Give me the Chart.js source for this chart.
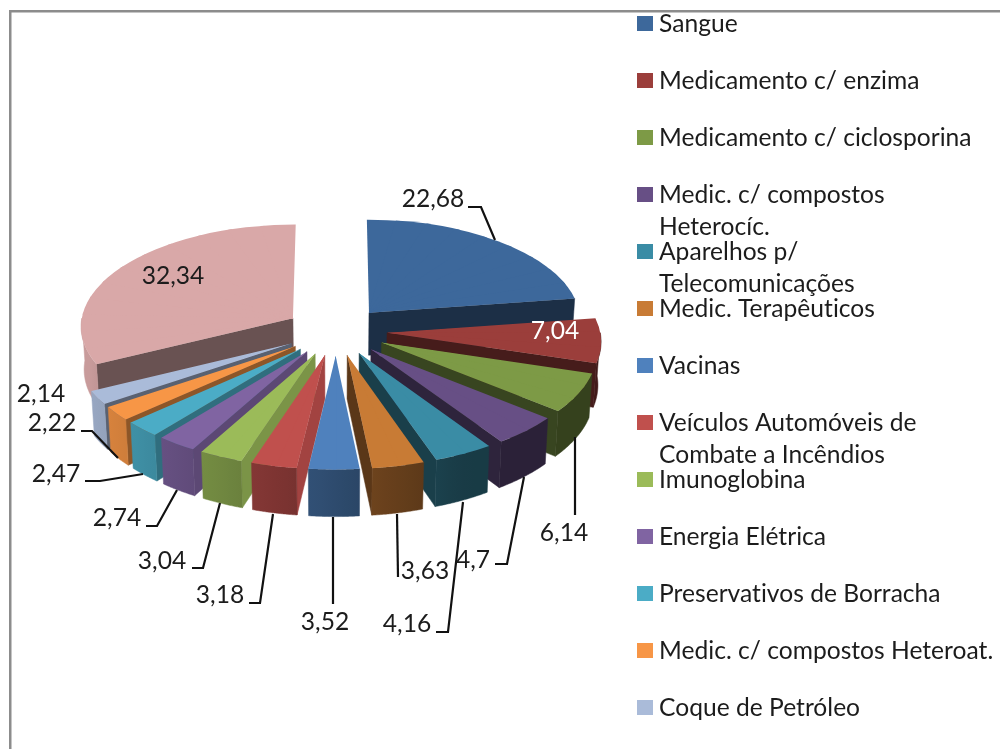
<!DOCTYPE html>
<html>
<head>
<meta charset="utf-8">
<style>
  html, body { margin: 0; padding: 0; background: #fff; }
  canvas { display: block; }
</style>
<script src="https://cdn.jsdelivr.net/npm/chart.js@4"></script>
</head>
<body>
<canvas id="pieChart" width="1000" height="749"></canvas>
<script>
// valores
const categories = ['Sangue', 'Medicamento c/ enzima', 'Medicamento c/ ciclosporina', 'Medic. c/ compostos Heterocíc.',
  'Aparelhos p/ Telecomunicações', 'Medic. Terapêuticos', 'Vacinas', 'Veículos Automóveis de Combate a Incêndios',
  'Imunoglobina', 'Energia Elétrica', 'Preservativos de Borracha', 'Medic. c/ compostos Heteroat.', 'Coque de Petróleo', 'Outros'];
const values = [22.68, 7.04, 6.14, 4.7, 4.16, 3.63, 3.52, 3.18, 3.04, 2.74, 2.47, 2.22, 2.14, 32.34];
const colours = ['#3D689B', '#9B3E3B', '#7D9A46', '#674F85', '#3A8CA5', '#C87B35', '#4F81BD', '#C0504D',
  '#9BBB59', '#8064A2', '#4BACC6', '#F79646', '#AABBD9', '#D9A8A8'];
// linhas da legenda (a última fatia não aparece na legenda)
const legendLines = [['Sangue'], ['Medicamento c/ enzima'], ['Medicamento c/ ciclosporina'], ['Medic. c/ compostos', 'Heterocíc.'],
  ['Aparelhos p/', 'Telecomunicações'], ['Medic. Terapêuticos'], ['Vacinas'], ['Veículos Automóveis de', 'Combate a Incêndios'],
  ['Imunoglobina'], ['Energia Elétrica'], ['Preservativos de Borracha'], ['Medic. c/ compostos Heteroat.'], ['Coque de Petróleo']];

// posição dos rótulos e linhas de chamada
const labelPos = [[433, 199], [555, 331], [564, 533], [473, 560], [407, 624], [425, 571], [325, 622],
  [220, 595], [162, 561], [117, 518], [56, 474], [52, 423], [41, 394], [173, 276]];
const leaders = [
  [[495, 240], [481, 207], [468, 207]], null,
  [[575, 437], [575, 515]],
  [[524, 477], [507, 564], [495, 564]],
  [[463, 502], [448, 632], [436, 632]],
  [[397, 514], [398, 577]],
  [[333, 517], [333, 604]],
  [[273, 514], [260, 603], [249, 603]],
  [[220, 503], [203, 568], [192, 568]],
  [[177, 490], [157, 526], [146, 526]],
  [[143, 474], [100, 481], [85, 481]],
  [[118, 458], [92, 431], [81, 431]],
  null, null
];

const FONT = 'Lato, "Open Sans", sans-serif';
const view = { cx: 336, cy: 331, rx: 213, ry: 102, persp: 0.07, depth: 43, explode: 0.24, narrow: 0.012 };

function shade(hex, f) {
  const n = parseInt(hex.slice(1), 16);
  const c = [n >> 16, (n >> 8) & 255, n & 255].map(v => Math.round(Math.min(255, v * f)));
  return 'rgb(' + c.join(',') + ')';
}

// projeta um ponto da fatia (raio t, ângulo a) para o ecrã, z = profundidade
function project(arc, t, a, z) {
  const d = z || 0;
  const mid = (arc.startAngle + arc.endAngle) / 2;
  const u = view.explode * Math.cos(mid) + t * Math.cos(a);
  const v = view.explode * Math.sin(mid) + t * Math.sin(a);
  const s = 1 / (1 - view.persp * v);
  return [view.cx + view.rx * u * s * (1 - view.narrow * d / view.depth), view.cy + view.ry * v * s + d * s];
}

function poly(ctx, pts, fill) {
  ctx.beginPath();
  pts.forEach((p, i) => i ? ctx.lineTo(p[0], p[1]) : ctx.moveTo(p[0], p[1]));
  ctx.closePath();
  ctx.fillStyle = fill;
  ctx.fill();
  ctx.strokeStyle = fill;
  ctx.lineWidth = 0.5;
  ctx.stroke();
}

function radialFace(ctx, arc, a, nx, ny, colour) {
  if (ny <= 0) return; // virada para trás
  const k = Math.max(0, nx);
  const f = 0.45 + 0.4 * k * k * k;
  poly(ctx, [project(arc, 0, a), project(arc, 1, a), project(arc, 1, a, view.depth), project(arc, 0, a, view.depth)], shade(colour, f));
}

function outerWall(ctx, arc, colour) {
  const lo = Math.max(arc.startAngle, 0), hi = Math.min(arc.endAngle, Math.PI);
  if (lo >= hi) return;
  const top = [], bottom = [];
  const steps = 40;
  for (let i = 0; i <= steps; i++) {
    const a = lo + (hi - lo) * i / steps;
    top.push(project(arc, 1, a));
    bottom.unshift(project(arc, 1, a, view.depth));
  }
  const wallShade = a => Math.max(0.42, Math.min(0.92, 0.58 - 0.35 * Math.cos(a)));
  const x0 = top[0][0], x1 = top[steps][0];
  const g = ctx.createLinearGradient(x0, 0, x1 === x0 ? x0 + 1 : x1, 0);
  for (let i = 0; i <= 4; i++) {
    g.addColorStop(i / 4, shade(colour, wallShade(lo + (hi - lo) * i / 4)));
  }
  poly(ctx, top.concat(bottom), g);
}

// a face superior é o próprio ArcElement, desenhado em setores finos,
// cada um com a sua transformação afim, para seguir a perspetiva
function topFace(ctx, arc) {
  const span = arc.endAngle - arc.startAngle;
  const n = Math.ceil(span / (10 * Math.PI / 180));
  const overlap = 0.01;
  const R = arc.outerRadius;
  const A = project(arc, 0, 0);
  for (let i = 0; i < n; i++) {
    const a0 = arc.startAngle + span * i / n, a1 = arc.startAngle + span * (i + 1) / n;
    const B = project(arc, 1, a0), C = project(arc, 1, a1);
    const c1 = Math.cos(a0), s1 = Math.sin(a0), c2 = Math.cos(a1), s2 = Math.sin(a1);
    const det = c1 * s2 - c2 * s1;
    const bx = B[0] - A[0], by = B[1] - A[1], cx = C[0] - A[0], cy = C[1] - A[1];
    const a = (bx * s2 - cx * s1) / det, c = (cx * c1 - bx * c2) / det;
    const b = (by * s2 - cy * s1) / det, d = (cy * c1 - by * c2) / det;
    const O = project(arc, -0.05, (a0 + a1) / 2);
    const P = project(arc, 1.2, a0 - overlap), Q = project(arc, 1.2, a1 + overlap);
    ctx.save();
    ctx.beginPath();
    ctx.moveTo(O[0], O[1]);
    ctx.lineTo(P[0], P[1]);
    ctx.lineTo(Q[0], Q[1]);
    ctx.closePath();
    ctx.clip();
    ctx.transform(a / R, b / R, c / R, d / R,
      A[0] - (a * arc.x + c * arc.y) / R, A[1] - (b * arc.x + d * arc.y) / R);
    arc.draw(ctx);
    ctx.restore();
  }
}

const pie3d = {
  id: 'pie3d',
  beforeDatasetDraw(chart, args) {
    const ctx = chart.ctx;
    const arcs = args.meta.data.map((arc, i) => ({ arc, i }));
    // de trás para a frente
    arcs.sort((p, q) => Math.sin((p.arc.startAngle + p.arc.endAngle) / 2) - Math.sin((q.arc.startAngle + q.arc.endAngle) / 2));
    arcs.forEach(({ arc, i }) => {
      const col = colours[i];
      const s = arc.startAngle, e = arc.endAngle;
      radialFace(ctx, arc, s, Math.sin(s), -Math.cos(s), col);
      radialFace(ctx, arc, e, -Math.sin(e), Math.cos(e), col);
      outerWall(ctx, arc, col);
      topFace(ctx, arc);
    });
    return false;
  }
};

const decorations = {
  id: 'decorations',
  beforeDraw(chart) {
    const ctx = chart.ctx;
    ctx.fillStyle = '#8c8c8c';
    ctx.fillRect(9, 10, 2.5, 739);
    ctx.fillRect(9, 10, 991, 2.5);
  },
  afterDraw(chart) {
    const ctx = chart.ctx;
    ctx.textBaseline = 'middle';
    ctx.textAlign = 'left';
    ctx.font = '24.6px ' + FONT;
    ctx.letterSpacing = '0.01px'; // sem ligaduras
    // legenda
    legendLines.forEach((lines, i) => {
      const y = 24 + i * 57;
      ctx.fillStyle = colours[i];
      ctx.fillRect(637, y - 8, 16, 15);
      ctx.fillStyle = '#1c1c1c';
      lines.forEach((t, j) => ctx.fillText(t, 659, y + j * 32));
    });
    // linhas de chamada
    ctx.strokeStyle = '#111';
    ctx.lineWidth = 2.2;
    leaders.forEach(pts => {
      if (!pts) return;
      ctx.beginPath();
      pts.forEach((p, i) => i ? ctx.lineTo(p[0], p[1]) : ctx.moveTo(p[0], p[1]));
      ctx.stroke();
    });
    // rótulos de valor
    ctx.textAlign = 'center';
    values.forEach((v, i) => {
      ctx.fillStyle = i === 1 ? '#fff' : '#1c1c1c';
      ctx.fillText(String(v).replace('.', ','), labelPos[i][0], labelPos[i][1]);
    });
  }
};

new Chart(document.getElementById('pieChart'), {
  type: 'pie',
  data: {
    labels: categories,
    datasets: [{ data: values, backgroundColor: colours, borderWidth: 0, clip: false }]
  },
  options: {
    responsive: false,
    animation: false,
    plugins: { legend: { display: false }, tooltip: { enabled: false } }
  },
  plugins: [pie3d, decorations]
});
</script>
</body>
</html>
